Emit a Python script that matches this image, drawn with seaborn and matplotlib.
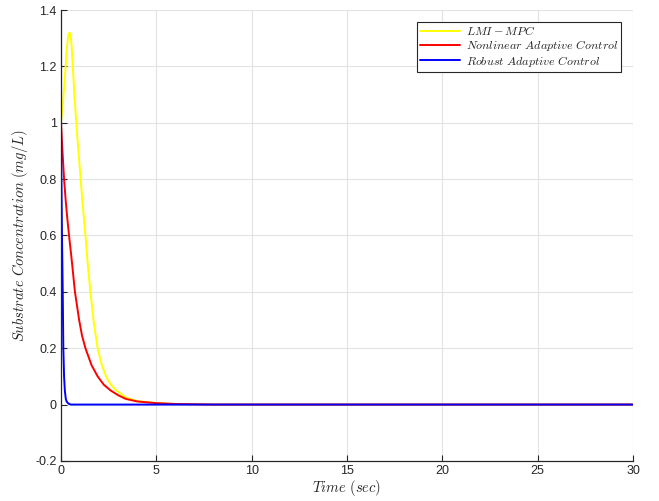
import pandas as pd
import matplotlib
matplotlib.use('Agg')
import matplotlib.pyplot as plt
import seaborn as sns

# values
t_lmi = [0, 0.1, 0.2, 0.3, 0.36, 0.4, 0.44, 0.48, 0.52, 0.56, 0.6, 0.7, 0.8, 0.9, 1.03, 1.15,
         1.28, 1.4, 1.54, 1.72, 1.92, 2.12, 2.36, 2.6, 2.9, 3.4, 4.0, 5.0, 6.0, 8.0, 30]
y_lmi = [1.0, 1.07, 1.16, 1.26, 1.3, 1.315, 1.32, 1.315, 1.3, 1.27, 1.22, 1.1, 1.0, 0.91, 0.8, 0.7,
         0.6, 0.5, 0.4, 0.29, 0.2, 0.145, 0.1, 0.072, 0.05, 0.025, 0.012, 0.005, 0.002, 0.0, 0.0]

t_nac = [0, 0.05, 0.1, 0.16, 0.25, 0.33, 0.42, 0.55, 0.73, 0.95, 1.1, 1.28, 1.6, 1.92, 2.25,
         2.6, 3.0, 3.4, 4.0, 5.0, 6.0, 8.0, 30]
y_nac = [1.0, 0.93, 0.87, 0.8, 0.72, 0.66, 0.6, 0.52, 0.4, 0.3, 0.245, 0.2, 0.14, 0.1, 0.07,
         0.05, 0.033, 0.02, 0.011, 0.005, 0.002, 0.0, 0.0]

t_rac = [0, 0.02, 0.05, 0.09, 0.12, 0.16, 0.2, 0.25, 0.3, 0.4, 0.52, 30]
y_rac = [1.0, 0.8, 0.6, 0.4, 0.2, 0.1, 0.05, 0.02, 0.01, 0.003, 0.0, 0.0]

labels = [r'$LMI-MPC$', r'$Nonlinear\ Adaptive\ Control$', r'$Robust\ Adaptive\ Control$']
colors = ['#ffff00', '#ff0000', '#0000ff']

df = pd.concat([
    pd.DataFrame({'t': t_lmi, 'y': y_lmi, 'method': labels[0]}),
    pd.DataFrame({'t': t_nac, 'y': y_nac, 'method': labels[1]}),
    pd.DataFrame({'t': t_rac, 'y': y_rac, 'method': labels[2]}),
])

sns.set_style('ticks')
plt.rcParams['mathtext.fontset'] = 'cm'
plt.rcParams['font.family'] = ['Liberation Sans', 'DejaVu Sans']

fig = plt.figure(figsize=(6.59, 5.01), dpi=100)
ax = fig.add_axes([0.0926, 0.08, 0.868, 0.90])

sns.lineplot(data=df, x='t', y='y', hue='method', palette=colors,
             estimator=None, sort=False, linewidth=1.4, ax=ax)

ax.set_xlim(0, 30)
ax.set_ylim(-0.2, 1.4)
ax.set_xticks([0, 5, 10, 15, 20, 25, 30])
ax.set_yticks([-0.2, 0, 0.2, 0.4, 0.6, 0.8, 1.0, 1.2, 1.4])
ax.set_yticklabels(['-0.2', '0', '0.2', '0.4', '0.6', '0.8', '1', '1.2', '1.4'])
ax.grid(True, color='#e3e3e3', linewidth=0.8)
ax.set_axisbelow(True)
ax.tick_params(direction='in', length=4, width=0.8, labelsize=9, colors='#262626', pad=3)
for s in ['top', 'right']:
    ax.spines[s].set_visible(False)
for s in ['left', 'bottom']:
    ax.spines[s].set_color('#262626')
    ax.spines[s].set_linewidth(0.9)

ax.set_xlabel(r'$Time\ (sec)$', fontsize=10.5, labelpad=1)
ax.set_ylabel(r'$Substrate\ Concentration\ (mg/L)$', fontsize=10.5, labelpad=4)

leg = ax.legend(loc='upper right', bbox_to_anchor=(0.979, 0.973), borderaxespad=0,
                fontsize=8.7, frameon=True, fancybox=False, handlelength=3.3,
                borderpad=0.25, labelspacing=0.02, handletextpad=0.5)
leg.get_frame().set_edgecolor('#262626')
leg.get_frame().set_linewidth(0.8)
leg.get_frame().set_alpha(1)

fig.savefig('out.png', dpi=100)
